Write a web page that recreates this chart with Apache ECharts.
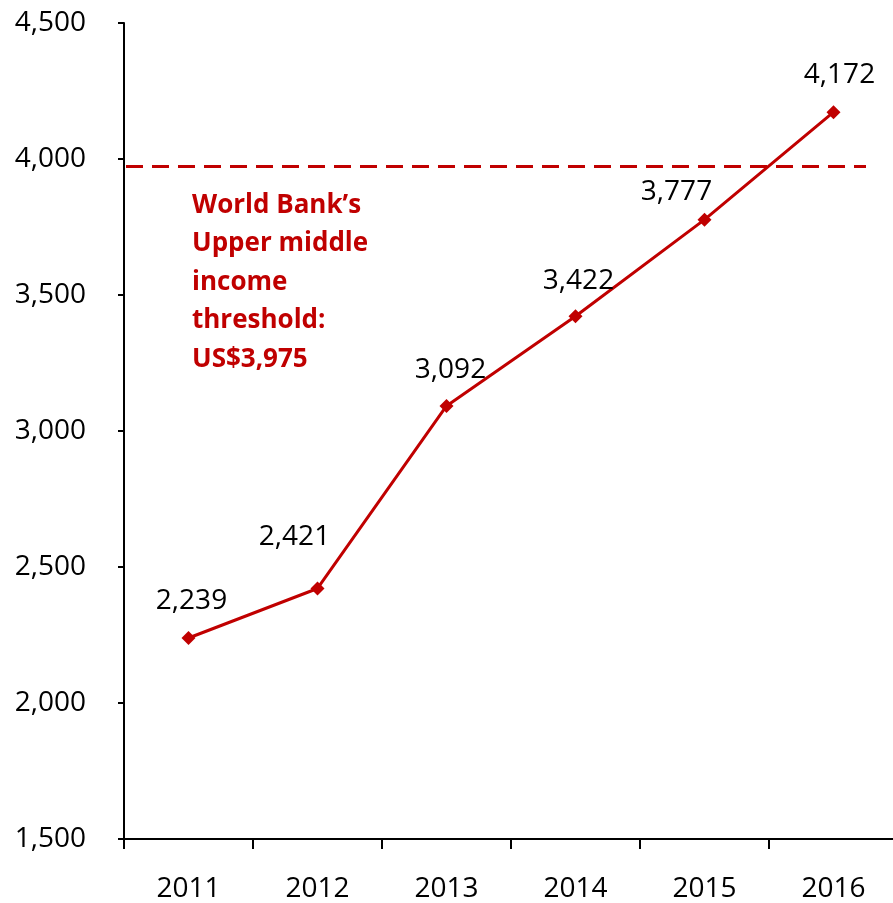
<!DOCTYPE html>
<html>
<head>
<meta charset="utf-8">
<script src="https://cdn.jsdelivr.net/npm/echarts@6/dist/echarts.min.js"></script>
<style>
  html, body { margin: 0; padding: 0; background: #fff; }
  #chart { width: 893px; height: 903px; }
</style>
</head>
<body>
<div id="chart"></div>
<script>
// GDP per capita by year (US$)
const years = ['2011', '2012', '2013', '2014', '2015', '2016'];
const gdpPerCapita = [2239, 2421, 3092, 3422, 3777, 4172];
// World Bank upper-middle income threshold
const threshold = 3975;
const thresholdText = ['World Bank\u2019s', 'Upper middle', 'income', 'threshold:', 'US$3,975'];
const yTicks = { min: 1500, max: 4500, interval: 500 };

const RED = '#C00000';
const FONT = '"Open Sans", "Noto Sans", sans-serif';

// per-point label nudges so the numbers sit clear of the line
const labelOffsets = [[3, -37], [-23, -51], [4, -36], [3, -35], [-28, -28], [6, -37]];

const chart = echarts.init(document.getElementById('chart'));
chart.setOption({
  animation: false,
  backgroundColor: '#fff',
  grid: {
    left: 124, top: 23, right: -5, bottom: 64,
    containLabel: false, outerBoundsMode: 'none'
  },
  xAxis: {
    type: 'category',
    data: years,
    boundaryGap: true,
    axisLine: { lineStyle: { color: '#000', width: 2 } },
    axisTick: { show: true, length: 10, lineStyle: { color: '#000', width: 2 } },
    axisLabel: { color: '#000', fontFamily: FONT, fontSize: 28, margin: 36 },
    splitLine: { show: false }
  },
  yAxis: {
    type: 'value',
    min: yTicks.min,
    max: yTicks.max,
    interval: yTicks.interval,
    axisLine: { show: true, lineStyle: { color: '#000', width: 2 } },
    axisTick: { show: true, length: 6, lineStyle: { color: '#000', width: 2 } },
    axisLabel: {
      color: '#000', fontFamily: FONT, fontSize: 28, margin: 38,
      formatter: v => v.toLocaleString('en-US')
    },
    splitLine: { show: false }
  },
  series: [{
    type: 'line',
    data: gdpPerCapita.map((v, i) => ({
      value: v,
      label: { offset: labelOffsets[i] }
    })),
    symbol: 'diamond',
    symbolSize: 14,
    lineStyle: { color: RED, width: 3 },
    itemStyle: { color: RED },
    label: {
      show: true,
      position: 'inside',
      color: '#000',
      fontFamily: FONT,
      fontSize: 28,
      formatter: p => p.value.toLocaleString('en-US')
    },
    markLine: {
      silent: true,
      symbol: 'none',
      label: { show: false },
      lineStyle: { color: RED, width: 3, type: [17, 9] },
      data: [[{ x: 126, yAxis: threshold }, { x: 866, yAxis: threshold }]]
    }
  }],
  graphic: [{
    type: 'text',
    left: 192,
    top: 186,
    style: {
      text: thresholdText.join('\n'),
      fill: RED,
      font: 'bold 26px ' + FONT,
      lineHeight: 38.5
    }
  }]
});
</script>
</body>
</html>
